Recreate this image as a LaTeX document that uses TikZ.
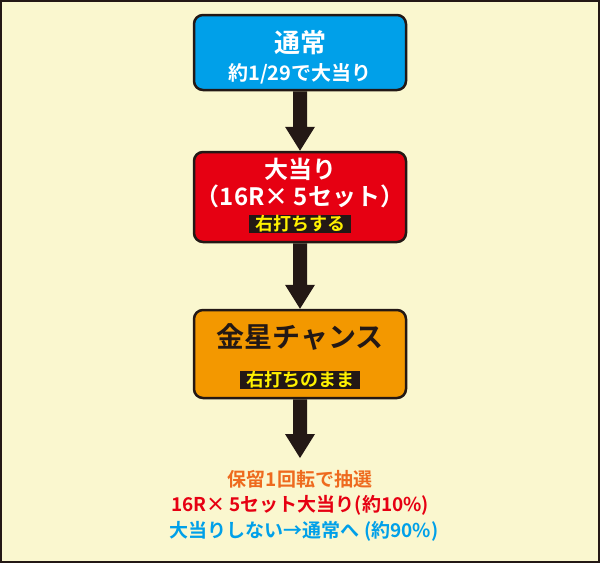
\documentclass[tikz,border=0pt]{standalone}
\usepackage{fontspec}
\setmainfont{Noto Sans CJK JP}[BoldFont={Noto Sans CJK JP Bold}]
\definecolor{bg}{HTML}{FAF7CF}
\definecolor{ink}{HTML}{231815}
\definecolor{cblue}{HTML}{00A0E9}
\definecolor{cred}{HTML}{E60012}
\definecolor{corange}{HTML}{F39800}
\definecolor{tor}{HTML}{EE6A1E}
\definecolor{cyel}{HTML}{FFF100}
\begin{document}
\begin{tikzpicture}[x=1pt,y=-1pt,
 box/.style={draw=ink,line width=2.5pt,rounded corners=9pt,minimum width=212pt,inner sep=0pt},
 tag/.style={fill=ink,text=cyel,font=\bfseries\fontsize{18}{18}\selectfont,inner xsep=6pt,inner ysep=1pt},
 arr/.style={fill=ink}]
\useasboundingbox (0,0) rectangle (600,563);
\fill[bg] (0,0) rectangle (600,563);
\draw[ink,line width=1.5pt] (1,1) rectangle (599,562);
\node[box,fill=cblue,minimum height=75pt] (b1) at (300,52.5) {};
\node[text=white,font=\bfseries\fontsize{26}{26}\selectfont] (t1) at (300,43) {通常};
\node[text=white,font=\bfseries\fontsize{20}{20}\selectfont] (t1b) at (300,74) {約1/29で大当り};
\node[box,fill=cred,minimum height=90pt] (b2) at (300,197) {};
\node[text=white,font=\bfseries\fontsize{24}{24}\selectfont] (t2) at (300,169) {大当り};
\node[text=white,font=\bfseries\fontsize{24}{24}\selectfont] (t2b) at (300,196) {（16R× 5セット）};
\node[tag] (g2) at (300,224) {右打ちする};
\node[box,fill=corange,minimum height=88pt] (b3) at (300,354) {};
\node[text=ink,font=\bfseries\fontsize{28}{28}\selectfont] (t3) at (300,337) {金星チャンス};
\node[tag] (g3) at (300,380) {右打ちのまま};
\coordinate (e) at (300,458);
\foreach \a/\b in {b1/b2,b2/b3,b3/e}{
 \path (\a.south) coordinate (s) (\b.north) coordinate (t);
 \fill[arr] ([xshift=-7pt]s) -- ([xshift=-7pt,yshift=24pt]t) -- ([xshift=-15pt,yshift=24pt]t) -- (t) -- ([xshift=15pt,yshift=24pt]t) -- ([xshift=7pt,yshift=24pt]t) -- ([xshift=7pt]s) -- cycle;
}
\node[text=tor,font=\bfseries\fontsize{19}{19}\selectfont] (l1) at (300,479) {保留1回転で抽選};
\node[text=cred,font=\bfseries\fontsize{19}{19}\selectfont] (l2) at (300,505) {16R× 5セット大当り(約10\%)};
\node[text=cblue,font=\bfseries\fontsize{19}{19}\selectfont] (l3) at (304,531) {大当りしない→通常へ (約90\%)};
\end{tikzpicture}
\end{document}
